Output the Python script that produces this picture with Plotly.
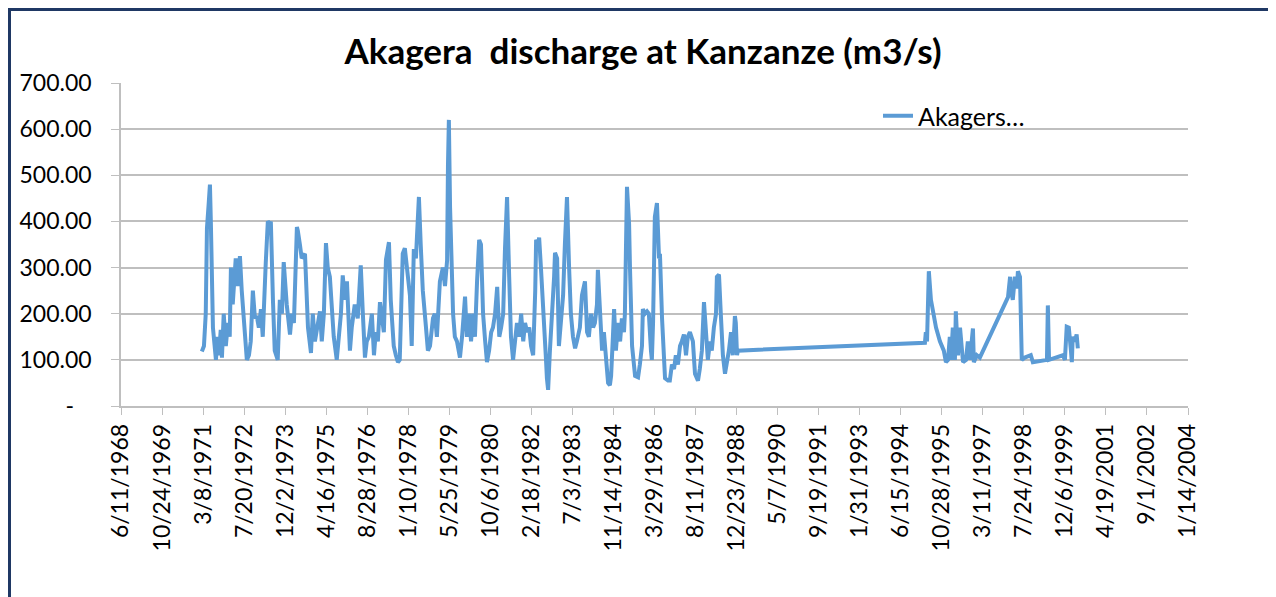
import pandas as pd
import plotly.graph_objects as go

# Decimal-year time stamps and discharge (m3/s)
years = [
    1971.14, 1971.21, 1971.27, 1971.31, 1971.37, 1971.41, 1971.44, 1971.51, 1971.61, 1971.67,
    1971.71, 1971.77, 1971.81, 1971.87, 1971.94, 1972.01, 1972.07, 1972.11, 1972.17, 1972.27,
    1972.34, 1972.41, 1972.47, 1972.57, 1972.64, 1972.71, 1972.77, 1972.84, 1972.91, 1972.97,
    1973.04, 1973.11, 1973.17, 1973.27, 1973.34, 1973.41, 1973.44, 1973.51, 1973.57, 1973.67,
    1973.74, 1973.81, 1973.87, 1973.97, 1974.08, 1974.14, 1974.21, 1974.31, 1974.34, 1974.41,
    1974.47, 1974.58, 1974.68, 1974.78, 1974.84, 1974.91, 1974.98, 1975.08, 1975.14, 1975.21,
    1975.28, 1975.34, 1975.41, 1975.48, 1975.54, 1975.64, 1975.71, 1975.78, 1975.84, 1975.91,
    1975.98, 1976.04, 1976.08, 1976.14, 1976.24, 1976.34, 1976.44, 1976.51, 1976.58, 1976.64,
    1976.71, 1976.81, 1976.88, 1976.94, 1977.01, 1977.08, 1977.14, 1977.21, 1977.28, 1977.38,
    1977.44, 1977.54, 1977.61, 1977.68, 1977.74, 1977.84, 1977.91, 1977.98, 1978.08, 1978.14,
    1978.21, 1978.28, 1978.38, 1978.44, 1978.51, 1978.61, 1978.68, 1978.75, 1978.85, 1978.91,
    1978.98, 1979.08, 1979.18, 1979.25, 1979.32, 1979.35, 1979.38, 1979.42, 1979.45, 1979.52,
    1979.58, 1979.65, 1979.75, 1979.82, 1979.92, 1979.98, 1980.05, 1980.12, 1980.19, 1980.25,
    1980.32, 1980.39, 1980.45, 1980.52, 1980.59, 1980.65, 1980.72, 1980.79, 1980.85, 1980.92,
    1980.99, 1981.06, 1981.12, 1981.19, 1981.25, 1981.32, 1981.39, 1981.45, 1981.52, 1981.59,
    1981.65, 1981.72, 1981.79, 1981.86, 1981.92, 1981.99, 1982.06, 1982.12, 1982.19, 1982.26,
    1982.29, 1982.36, 1982.39, 1982.45, 1982.52, 1982.55, 1982.62, 1982.65, 1982.69, 1982.75,
    1982.82, 1982.89, 1982.92, 1982.99, 1983.05, 1983.12, 1983.19, 1983.25, 1983.32, 1983.39,
    1983.45, 1983.52, 1983.59, 1983.65, 1983.75, 1983.82, 1983.89, 1983.92, 1983.99, 1984.05,
    1984.12, 1984.19, 1984.25, 1984.32, 1984.35, 1984.42, 1984.49, 1984.55, 1984.62, 1984.69,
    1984.75, 1984.79, 1984.85, 1984.89, 1984.95, 1985.02, 1985.09, 1985.15, 1985.22, 1985.25,
    1985.32, 1985.39, 1985.42, 1985.49, 1985.59, 1985.69, 1985.75, 1985.82, 1985.85, 1985.92,
    1985.99, 1986.05, 1986.12, 1986.15, 1986.19, 1986.25, 1986.32, 1986.39, 1986.42, 1986.49,
    1986.59, 1986.69, 1986.75, 1986.82, 1986.89, 1986.95, 1987.02, 1987.09, 1987.15, 1987.22,
    1987.29, 1987.35, 1987.42, 1987.52, 1987.59, 1987.69, 1987.75, 1987.82, 1987.89, 1987.95,
    1988.02, 1988.09, 1988.15, 1988.22, 1988.29, 1988.32, 1988.39, 1988.45, 1988.52, 1988.59,
    1988.65, 1988.72, 1988.79, 1988.85, 1988.92, 1988.95, 1988.99, 1989.02,
    1995.26, 1995.29, 1995.33, 1995.39, 1995.46, 1995.53, 1995.63, 1995.76, 1995.89, 1995.96,
    1996.03, 1996.09, 1996.13, 1996.19, 1996.23, 1996.26, 1996.29, 1996.36, 1996.43, 1996.53,
    1996.63, 1996.69, 1996.76, 1996.86, 1996.89, 1996.99, 1997.09,
    1998.03, 1998.10, 1998.13, 1998.19, 1998.26, 1998.33, 1998.36, 1998.43, 1998.49, 1998.59,
    1998.69, 1998.79, 1998.86, 1999.33, 1999.36, 1999.40, 1999.86, 1999.93, 1999.99, 2000.06,
    2000.13, 2000.16, 2000.19, 2000.26, 2000.32, 2000.36,
]

discharge = [
    118, 130, 200, 385, 440, 480, 400, 170, 100, 150,
    110, 165, 105, 200, 130, 180, 150, 300, 220, 320,
    260, 325, 250, 160, 100, 110, 140, 250, 190, 195,
    170, 210, 150, 310, 400, 395, 400, 230, 120, 100,
    230, 200, 312, 220, 155, 200, 180, 388, 380, 350,
    320, 330, 170, 115, 200, 140, 170, 205, 140, 200,
    353, 300, 280, 190, 150, 100, 150, 200, 283, 230,
    270, 180, 120, 170, 220, 190, 305, 200, 105, 140,
    150, 200, 110, 160, 140, 225, 190, 160, 317, 355,
    230, 130, 110, 95, 100, 330, 342, 300, 240, 130,
    340, 320, 453, 350, 250, 175, 120, 130, 190, 200,
    150, 270, 300, 260, 315, 520, 620, 430, 330, 200,
    150, 140, 105, 150, 237, 150, 200, 140, 200, 150,
    270, 360, 350, 200, 140, 95, 120, 160, 170, 200,
    258, 150, 170, 200, 340, 453, 280, 150, 100, 140,
    180, 150, 200, 140, 180, 160, 170, 130, 110, 250,
    360, 350, 365, 300, 230, 200, 100, 60, 35, 120,
    190, 280, 332, 320, 130, 200, 240, 350, 453, 300,
    200, 150, 125, 140, 170, 240, 270, 270, 160, 150,
    200, 170, 180, 220, 295, 200, 120, 160, 100, 50,
    45, 65, 150, 210, 120, 180, 140, 190, 160, 200,
    475, 395, 300, 130, 65, 62, 90, 130, 210, 200,
    205, 200, 120, 100, 180, 410, 440, 320, 330, 190,
    60, 55, 55, 90, 80, 110, 90, 130, 140, 155,
    110, 150, 160, 140, 70, 55, 80, 120, 225, 150,
    100, 140, 120, 170, 200, 280, 285, 200, 110, 70,
    90, 120, 160, 110, 195, 180, 110, 120,
    137, 160, 140, 292, 230, 200, 170, 140, 120, 95,
    100, 150, 100, 170, 120, 100, 205, 110, 170, 95,
    100, 140, 100, 168, 95, 110, 105,
    236, 280, 250, 230, 280, 255, 292, 280, 100, 105,
    108, 110, 95, 100, 218, 100, 110, 100, 172, 170,
    120, 95, 150, 140, 155, 125,
]

x_tick_labels = [
    "6/11/1968", "10/24/1969", "3/8/1971", "7/20/1972", "12/2/1973", "4/16/1975",
    "8/28/1976", "1/10/1978", "5/25/1979", "10/6/1980", "2/18/1982", "7/3/1983",
    "11/14/1984", "3/29/1986", "8/11/1987", "12/23/1988", "5/7/1990", "9/19/1991",
    "1/31/1993", "6/15/1994", "10/28/1995", "3/11/1997", "7/24/1998", "12/6/1999",
    "4/19/2001", "9/1/2002", "1/14/2004",
]
y_tick_values = [0, 100, 200, 300, 400, 500, 600, 700]
y_tick_labels = ["-\u00a0\u00a0\u00a0", "100.00", "200.00", "300.00",
                 "400.00", "500.00", "600.00", "700.00"]

series_name = "Akagers\u2026"
title_text = "Akagera\u00a0 discharge at Kanzanze (m3/s)"


def dec_to_date(y):
    yr = int(y)
    start = pd.Timestamp(year=yr, month=1, day=1)
    end = pd.Timestamp(year=yr + 1, month=1, day=1)
    return start + (end - start) * (y - yr)


dates = [dec_to_date(y) for y in years]
x_tick_vals = [pd.to_datetime(s, format="%m/%d/%Y") for s in x_tick_labels]

FONT = "Lato, 'Open Sans', sans-serif"
GRID = "#BFBFBF"
LINE = "#5B9BD5"

# page body has an 8px margin, so the figure starts at (8, 8)
W, H = 1268, 589
L, T, PW, PH = 113, 75, 1067, 323

fig = go.Figure()
fig.add_trace(go.Scatter(
    x=dates, y=discharge, mode="lines", name=series_name,
    line=dict(color=LINE, width=4), showlegend=True,
))

fig.update_layout(
    width=W, height=H,
    margin=dict(l=L, r=W - L - PW, t=T, b=H - T - PH, autoexpand=False),
    paper_bgcolor="white", plot_bgcolor="white",
    title=dict(text=f"<b>{title_text}</b>", x=(643 - 8) / W, xanchor="center",
               y=1 - (52 - 8) / H, yanchor="middle",
               font=dict(family=FONT, size=35, color="black")),
    font=dict(family=FONT, size=22, color="black"),
    showlegend=True,
    legend=dict(x=(878 - 121) / PW, y=(406 - 116) / PH, xanchor="left", yanchor="middle",
                bgcolor="rgba(0,0,0,0)", font=dict(size=25, color="black"),
                itemwidth=30),
    xaxis=dict(
        type="date",
        range=[x_tick_vals[0], x_tick_vals[-1]],
        tickmode="array", tickvals=x_tick_vals, ticktext=x_tick_labels,
        tickangle=-90, ticks="outside", ticklen=7, tickcolor=GRID,
        showline=True, linecolor=GRID, linewidth=1.5,
        showgrid=False, zeroline=False,
        tickfont=dict(size=23),
    ),
    yaxis=dict(
        range=[0, 700],
        tickmode="array", tickvals=y_tick_values, ticktext=y_tick_labels,
        ticks="outside", ticklen=8, tickcolor=GRID,
        showline=True, linecolor=GRID, linewidth=1.5,
        showgrid=True, gridcolor=GRID, gridwidth=1.5,
        zeroline=False, ticklabelstandoff=15,
        tickfont=dict(size=23),
    ),
)

# dark blue frame of the chart object (kept inside the figure so it is not clipped)
fig.add_shape(type="rect", xref="paper", yref="paper",
              x0=(9.5 - 121) / PW, x1=(1270 - 121) / PW,
              y0=(406 - 640) / PH, y1=(406 - 9.5) / PH,
              line=dict(color="#1F3864", width=3), layer="above")

fig.write_html("out.html")
